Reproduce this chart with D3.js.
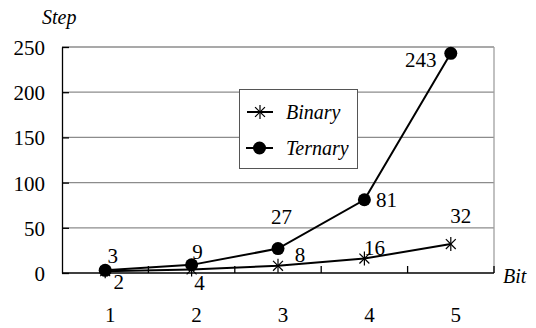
<!DOCTYPE html>
<html>
<head>
<meta charset="utf-8">
<script src="https://cdn.jsdelivr.net/npm/d3@7"></script>
<style>
  html, body { margin: 0; padding: 0; background: #fff; }
  svg { display: block; }
</style>
</head>
<body>
<svg id="chart" width="536" height="328"></svg>
<script>
const categories = [1, 2, 3, 4, 5];
const binary = [2, 4, 8, 16, 32];
const ternary = [3, 9, 27, 81, 243];
const yTicks = [0, 50, 100, 150, 200, 250];
const seriesNames = ["Binary", "Ternary"];
const xTitle = "Bit";
const yTitle = "Step";

// label placement offsets (style, not data)
const binaryLabelOffsets = [[13.5, 18], [8, 20.5], [22, -4], [10, -3.5], [10, -21]];
const ternaryLabelOffsets = [[7.5, -7], [6, -6], [3.5, -24.5], [22, 7], [-30, 14]];

const FONT = "'Liberation Serif', 'Times New Roman', Times, 'DejaVu Serif', serif";

const svg = d3.select("#chart");
const pLeft = 62, pRight = 494, pTop = 47, pBottom = 273;

const x = d3.scaleBand().domain(categories).range([pLeft, pRight]).paddingInner(0).paddingOuter(0);
const y = d3.scaleLinear().domain([0, 250]).range([pBottom, pTop]);
const cx = c => x(c) + x.bandwidth() / 2;

// gridlines
svg.append("g").selectAll("line").data(yTicks.filter(t => t > 0)).join("line")
  .attr("x1", pLeft).attr("x2", pRight)
  .attr("y1", d => y(d)).attr("y2", d => y(d))
  .attr("stroke", "#8c8c8c").attr("stroke-width", 1.3);

// right border
svg.append("line").attr("x1", pRight).attr("x2", pRight).attr("y1", pTop).attr("y2", pBottom)
  .attr("stroke", "#a0a0a0").attr("stroke-width", 1.3);

// y axis
const yAxis = d3.axisLeft(y).tickValues(yTicks).tickSizeInner(-7).tickSizeOuter(0).tickPadding(17);
const gy = svg.append("g").attr("transform", `translate(${pLeft},0)`).call(yAxis)
  .attr("font-family", FONT).attr("font-size", 21);
gy.select(".domain").attr("stroke", "#000").attr("stroke-width", 1.3);
gy.selectAll(".tick line").attr("stroke", "#000").attr("stroke-width", 1.3);
gy.selectAll(".tick text").attr("fill", "#000").attr("dy", "0.36em");

// x axis: ticks at category boundaries
const boundaries = categories.map(c => x(c)).concat([pRight]);
svg.append("line").attr("x1", pLeft).attr("x2", pRight).attr("y1", pBottom).attr("y2", pBottom)
  .attr("stroke", "#000").attr("stroke-width", 1.3);
svg.append("g").selectAll("line").data(boundaries.slice(1)).join("line")
  .attr("x1", d => d).attr("x2", d => d).attr("y1", pBottom).attr("y2", pBottom - 7)
  .attr("stroke", "#000").attr("stroke-width", 1.3);
svg.append("g").attr("font-family", FONT).selectAll("text").data(categories).join("text")
  .attr("x", d => cx(d) + 5).attr("y", 322)
  .attr("text-anchor", "middle").attr("font-size", 21).text(d => d);

// titles
svg.append("text").attr("font-family", FONT).attr("x", 42).attr("y", 24).attr("font-size", 20).attr("font-style", "italic").text(yTitle);
svg.append("text").attr("font-family", FONT).attr("x", 503).attr("y", 283).attr("font-size", 20).attr("font-style", "italic").text(xTitle);

// lines
const line = d3.line().x((d, i) => cx(categories[i])).y(d => y(d));
svg.append("path").datum(binary).attr("d", line).attr("fill", "none").attr("stroke", "#000").attr("stroke-width", 2);
svg.append("path").datum(ternary).attr("d", line).attr("fill", "none").attr("stroke", "#000").attr("stroke-width", 2);

function star(g, px, py, r) {
  const a = r * Math.SQRT1_2;
  g.append("line").attr("x1", px).attr("x2", px).attr("y1", py - r).attr("y2", py + r);
  g.append("line").attr("x1", px - a).attr("x2", px + a).attr("y1", py - a).attr("y2", py + a);
  g.append("line").attr("x1", px - a).attr("x2", px + a).attr("y1", py + a).attr("y2", py - a);
  g.attr("stroke", "#000").attr("stroke-width", 1.2);
}

// binary markers
binary.forEach((v, i) => star(svg.append("g"), cx(categories[i]), y(v), 7));
// ternary markers
svg.append("g").selectAll("circle").data(ternary).join("circle")
  .attr("cx", (d, i) => cx(categories[i])).attr("cy", d => y(d)).attr("r", 6.5).attr("fill", "#000");

// data labels
svg.append("g").attr("font-family", FONT).selectAll("text").data(binary).join("text")
  .attr("x", (d, i) => cx(categories[i]) + binaryLabelOffsets[i][0])
  .attr("y", (d, i) => y(d) + binaryLabelOffsets[i][1])
  .attr("text-anchor", "middle").attr("font-size", 21).text(d => d);
svg.append("g").attr("font-family", FONT).selectAll("text").data(ternary).join("text")
  .attr("x", (d, i) => cx(categories[i]) + ternaryLabelOffsets[i][0])
  .attr("y", (d, i) => y(d) + ternaryLabelOffsets[i][1])
  .attr("text-anchor", "middle").attr("font-size", 21).text(d => d);

// legend
const lg = svg.append("g");
lg.append("rect").attr("x", 239.5).attr("y", 89.5).attr("width", 118).attr("height", 79)
  .attr("fill", "#fff").attr("stroke", "#555").attr("stroke-width", 1);
const legendRows = [112, 148];
lg.append("line").attr("x1", 247).attr("x2", 273).attr("y1", legendRows[0]).attr("y2", legendRows[0])
  .attr("stroke", "#000").attr("stroke-width", 2);
star(lg.append("g"), 260, legendRows[0], 7);
lg.append("line").attr("x1", 246).attr("x2", 273).attr("y1", legendRows[1]).attr("y2", legendRows[1])
  .attr("stroke", "#000").attr("stroke-width", 2);
lg.append("circle").attr("cx", 259.5).attr("cy", legendRows[1]).attr("r", 6.5).attr("fill", "#000");
lg.append("g").attr("font-family", FONT).selectAll("text").data(seriesNames).join("text")
  .attr("x", 286).attr("y", (d, i) => legendRows[i] + 7)
  .attr("font-size", 20).attr("font-style", "italic").text(d => d);
</script>
</body>
</html>
